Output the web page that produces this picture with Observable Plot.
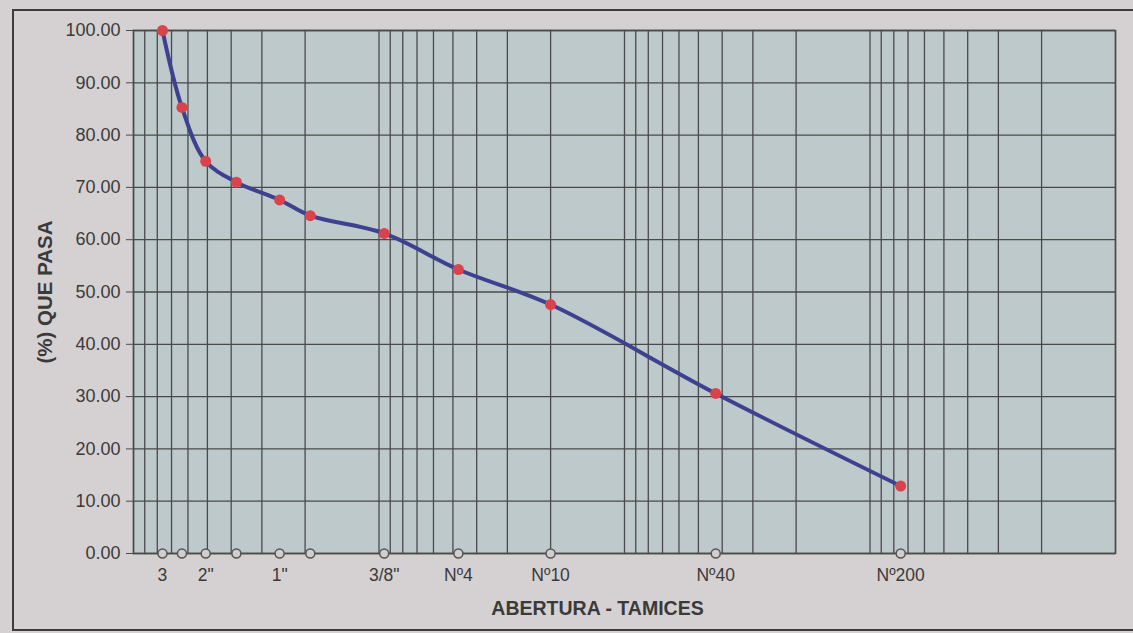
<!DOCTYPE html>
<html>
<head>
<meta charset="utf-8">
<script src="https://cdn.jsdelivr.net/npm/d3@7"></script>
<script src="https://cdn.jsdelivr.net/npm/@observablehq/plot@0.6"></script>
<style>
  html, body { margin: 0; padding: 0; background: #d5d1d2; overflow: hidden; }
  #wrap { position: relative; width: 1133px; height: 633px; }
  #border { position: absolute; left: 12px; top: 9px; width: 1130px; height: 622px; border: 2px solid #3c3c3c; box-sizing: border-box; pointer-events: none; }
  #chart { position: absolute; left: 0; top: 0; }
</style>
</head>
<body>
<div id="wrap">
  <div id="chart"></div>
  <div id="border"></div>
</div>
<script>
// Sieve data (opening in mm, % passing)
const sieveNames = ['3"', '2 1/2"', '2"', '1 1/2"', '1"', '3/4"', '3/8"', 'Nº4', 'Nº10', 'Nº40', 'Nº200'];
const openingsMm = [76.2, 63.5, 50.8, 38.1, 25.4, 19.05, 9.525, 4.75, 2.0, 0.425, 0.075];
const passingPct = [100, 85.3, 75.0, 71.0, 67.6, 64.6, 61.2, 54.3, 47.6, 30.6, 12.9];
const axisLabels = ["3", "", "2\"", "", "1\"", "", "3/8\"", "Nº4", "Nº10", "Nº40", "Nº200"];
const yTicks = [0, 10, 20, 30, 40, 50, 60, 70, 80, 90, 100];
const xGrid = [100, 90, 80, 70, 60, 50, 40, 30, 20,
               10, 9, 8, 7, 6, 5, 4, 3, 2,
               1, 0.9, 0.8, 0.7, 0.6, 0.5, 0.4, 0.3, 0.2,
               0.1, 0.09, 0.08, 0.07, 0.06, 0.05, 0.04, 0.03, 0.02, 0.01];
const yTitle = "(%) QUE PASA";
const xTitle = "ABERTURA - TAMICES";

const data = openingsMm.map((o, i) => ({opening: o, pct: passingPct[i], name: sieveNames[i], label: axisLabels[i]}));

const gridColor = "#4a4a4a";
const plotBg = "#bdc9cb";
const textColor = "#3a3a3a";

const chart = Plot.plot({
  width: 1133,
  height: 633,
  marginLeft: 133,
  marginRight: 18,
  marginTop: 30,
  marginBottom: 80,
  style: {background: "transparent", fontFamily: "'Liberation Sans', Arial, sans-serif", color: textColor},
  x: {type: "log", domain: [100, 0.01], axis: null},
  y: {domain: [0, 100]},
  marks: [
    Plot.frame({fill: plotBg, stroke: null}),
    Plot.ruleX(xGrid, {stroke: gridColor, strokeWidth: 1.3}),
    Plot.ruleY(yTicks, {stroke: gridColor, strokeWidth: 1.3}),
    Plot.frame({stroke: gridColor, strokeWidth: 1.5}),
    Plot.axisY({ticks: yTicks, tickFormat: d => d.toFixed(2), tickSize: 7, tickPadding: 6, fontSize: 18, label: null, stroke: gridColor, fill: textColor}),
    Plot.text(data, {x: "opening", y: () => 0, text: "label", dy: 22, fontSize: 17.5, fill: textColor}),
    Plot.dot(openingsMm, {x: d => d, y: () => 0, r: 4.5, fill: "#d0ced0", stroke: "#555", strokeWidth: 1.5}),
    Plot.line(data, {x: "opening", y: "pct", curve: "catmull-rom", stroke: "#3e4190", strokeWidth: 4}),
    Plot.dot(data, {x: "opening", y: "pct", r: 5.5, fill: "#d9434c", stroke: null}),
    Plot.text([yTitle], {frameAnchor: "left", textAnchor: "middle", rotate: -90, dx: -88, fontSize: 20.5, fontWeight: "bold", fill: textColor, letterSpacing: "1px"}),
    Plot.text([xTitle], {frameAnchor: "bottom", textAnchor: "middle", dx: -27, dy: 61, fontSize: 19.5, fontWeight: "bold", fill: textColor, letterSpacing: "1.5px"})
  ]
});
document.getElementById("chart").appendChild(chart);
</script>
</body>
</html>
